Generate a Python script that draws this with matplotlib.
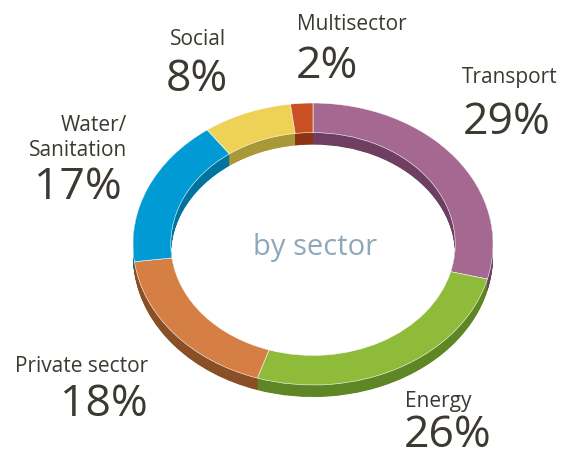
import numpy as np
import matplotlib.pyplot as plt

# Sector shares, clockwise from 12 o'clock
sectors = ['Transport', 'Energy', 'Private sector', 'Water/\nSanitation', 'Social', 'Multisector']
shares = [29, 26, 18, 17, 8, 2]
pct_labels = ['29%', '26%', '18%', '17%', '8%', '2%']
top_colors = ['#A56891', '#8FBB3A', '#D57F45', '#009BD5', '#EED257', '#C85022']
side_colors = ['#6E3F60', '#5F8624', '#8A4F26', '#00739E', '#A89838', '#8C3312']

plt.rcParams['font.family'] = ['Open Sans', 'DejaVu Sans']

W, H = 561, 464
fig = plt.figure(figsize=(W / 100, H / 100), dpi=100)
ax = fig.add_axes([0, 0, 1, 1])

# ellipse: 180 px wide radius, 141 px tall radius, centre at (313, 245) px
rx, ry = 180.0, 141.0
cx, cy = 313.0, 245.0
depth = 12.0  # px
ring = 0.21

# side wall: stacked darker copies shifted downwards
for k in np.linspace(depth, 0.5, 24):
    ax.pie(shares, colors=side_colors, startangle=90, counterclock=False,
           center=(0, -k / ry), radius=1.0,
           wedgeprops=dict(width=ring, linewidth=0))

# top surface
ax.pie(shares, colors=top_colors, startangle=90, counterclock=False,
       center=(0, 0), radius=1.0,
       wedgeprops=dict(width=ring, edgecolor='white', linewidth=0.4))

ax.set_aspect('auto')
ax.set_xlim(-cx / rx, (W - cx) / rx)
ax.set_ylim(-(H - cy) / ry, cy / ry)
ax.axis('off')

def px(x, y):
    return ((x - cx) / rx, (cy - y) / ry)

ax.text(*px(315, 247), 'by sector', fontsize=21, color='#8EA8BA',
        ha='center', va='center')

txt = '#3B3930'
name_fs = 15
pct_fs = 32
# name position, percent position, alignment (pixels from top-left)
name_xy = [(510, 78), (405, 401), (148, 367), (127, 138), (198, 40), (297, 25)]
pct_xy = [(507, 123), (404, 436), (148, 405), (122, 188), (197, 80), (296, 67)]
aligns = ['center', 'left', 'right', 'right', 'center', 'left']

for name, pct, nxy, pxy, ha in zip(sectors, pct_labels, name_xy, pct_xy, aligns):
    ax.text(*px(*nxy), name, fontsize=name_fs, color=txt, ha=ha, va='center',
            linespacing=1.25)
    ax.text(*px(*pxy), pct, fontsize=pct_fs, color=txt, ha=ha, va='center')

fig.savefig('out.png', dpi=100)
